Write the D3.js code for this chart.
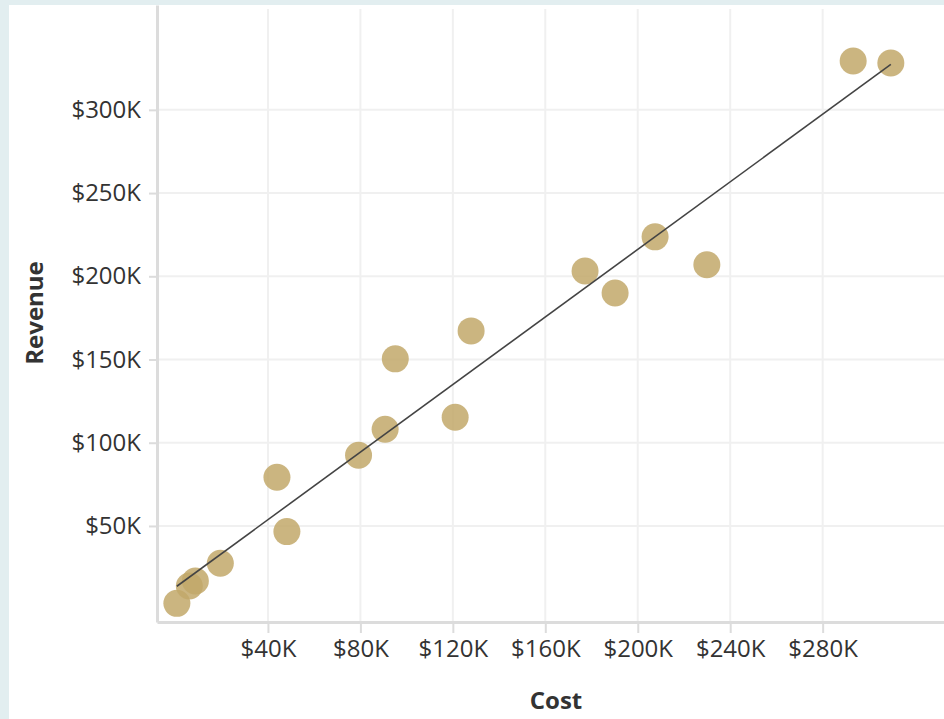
<!DOCTYPE html>
<html>
<head>
<meta charset="utf-8">
<script src="https://cdn.jsdelivr.net/npm/d3@7"></script>
<style>
  body { margin: 0; background: #e2eef0; }
  svg { display: block; }
  .tick text { font-family: "Open Sans", sans-serif; fill: #333; }
</style>
</head>
<body>
<div id="chart"></div>
<script>
// values (dollars)
var cost = [600, 6000, 8600, 19400, 48200, 43900, 79200, 90700, 121000, 95100, 127900, 177200, 190200, 207500, 229900, 293200, 309500];
var revenue = [3500, 13900, 16900, 27600, 46600, 79300, 92500, 108100, 115300, 150400, 167200, 203200, 190000, 223700, 206900, 329400, 328200];
var xTicks = [40000, 80000, 120000, 160000, 200000, 240000, 280000];
var yTicks = [50000, 100000, 150000, 200000, 250000, 300000];

var width = 944, height = 719;
var margin = { top: 5, right: 0, bottom: 97, left: 157 };

var svg = d3.select("#chart").append("svg")
    .attr("width", width)
    .attr("height", height);

// white panel
svg.append("rect")
    .attr("x", 9).attr("y", 5)
    .attr("width", width).attr("height", height)
    .attr("fill", "#fff");

var x = d3.scaleLinear()
    .domain([-8000, 332500])
    .range([margin.left, width - margin.right]);

var y = d3.scaleLinear()
    .domain([-7700, 363000])
    .range([height - margin.bottom, margin.top]);

var fmt = function (d) { return "$" + (d / 1000) + "K"; };

// grid
svg.append("g")
    .selectAll("line")
    .data(xTicks)
    .enter().append("line")
    .attr("x1", function (d) { return x(d); })
    .attr("x2", function (d) { return x(d); })
    .attr("y1", 9)
    .attr("y2", y.range()[0])
    .attr("stroke", "#f0f0f0")
    .attr("stroke-width", 2);

svg.append("g")
    .selectAll("line")
    .data(yTicks)
    .enter().append("line")
    .attr("x1", x.range()[0])
    .attr("x2", x.range()[1])
    .attr("y1", function (d) { return y(d); })
    .attr("y2", function (d) { return y(d); })
    .attr("stroke", "#f0f0f0")
    .attr("stroke-width", 2);

// axes
var xAxis = svg.append("g")
    .attr("transform", "translate(0," + y.range()[0] + ")")
    .call(d3.axisBottom(x).tickValues(xTicks).tickFormat(fmt)
        .tickSizeInner(11).tickSizeOuter(0).tickPadding(7));

var yAxis = svg.append("g")
    .attr("transform", "translate(" + x.range()[0] + ",0)")
    .call(d3.axisLeft(y).tickValues(yTicks).tickFormat(fmt)
        .tickSizeInner(8).tickSizeOuter(0).tickPadding(8));

[xAxis, yAxis].forEach(function (a) {
    a.select(".domain").attr("stroke", "#dcdcdc").attr("stroke-width", 3);
    a.selectAll(".tick line").attr("stroke", "#dcdcdc").attr("stroke-width", 2);
    a.selectAll(".tick text").style("font-size", "24px");
});

// axis titles
svg.append("text")
    .attr("x", 556)
    .attr("y", 709)
    .attr("text-anchor", "middle")
    .style("font-family", "Open Sans, sans-serif")
    .style("font-weight", "bold")
    .style("font-size", "24px")
    .style("fill", "#333")
    .text("Cost");

svg.append("text")
    .attr("transform", "translate(43,313) rotate(-90)")
    .attr("text-anchor", "middle")
    .style("font-family", "Open Sans, sans-serif")
    .style("font-weight", "bold")
    .style("font-size", "24px")
    .style("fill", "#333")
    .text("Revenue");

// points
var pts = cost.map(function (c, i) { return { cost: c, revenue: revenue[i] }; });

svg.append("g")
    .selectAll("circle")
    .data(pts)
    .enter().append("circle")
    .attr("cx", function (d) { return x(d.cost); })
    .attr("cy", function (d) { return y(d.revenue); })
    .attr("r", 13.5)
    .attr("fill", "#c2a86a")
    .attr("fill-opacity", 0.85);

// least squares trend line
var mx = d3.mean(cost), my = d3.mean(revenue);
var sxy = d3.sum(cost, function (c, i) { return (c - mx) * (revenue[i] - my); });
var sxx = d3.sum(cost, function (c) { return (c - mx) * (c - mx); });
var slope = sxy / sxx, icpt = my - slope * mx;
var ext = d3.extent(cost);

svg.append("line")
    .attr("x1", x(ext[0]))
    .attr("y1", y(icpt + slope * ext[0]))
    .attr("x2", x(ext[1]))
    .attr("y2", y(icpt + slope * ext[1]))
    .attr("stroke", "#444")
    .attr("stroke-width", 1.6);
</script>
</body>
</html>
